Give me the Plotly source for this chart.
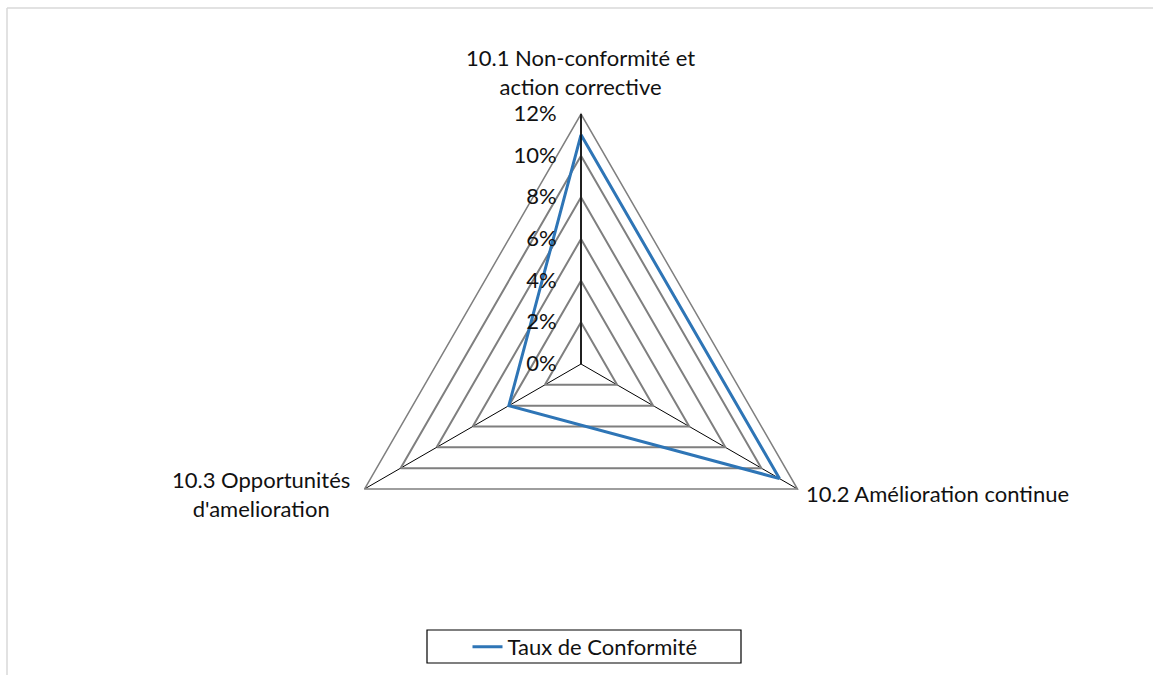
import plotly.graph_objects as go

# Compliance rate per clause of chapter 10
categories = [
    "10.1 Non-conformité et<br>action corrective",
    "10.2 Amélioration continue",
    "10.3 Opportunités<br>d'amelioration",
]
taux_conformite = [11, 11, 4]  # percent
radial_ticks = [0, 2, 4, 6, 8, 10, 12]
series_name = "Taux de Conformité"

W, H = 1153, 675
FONT = "Lato"
FS = 22
TXT = "#111111"

fig = go.Figure()
fig.add_trace(go.Scatterpolar(
    r=taux_conformite + taux_conformite[:1],
    theta=categories + categories[:1],
    mode="lines",
    name=series_name,
    line=dict(color="#2e75b6", width=3),
))

# polar area: radius 250 px, centred at (581, 364)
cx, cy, rad = 581, 364, 250
fig.update_layout(
    width=W, height=H,
    margin=dict(l=0, r=0, t=0, b=0),
    paper_bgcolor="white",
    font=dict(family=FONT, size=FS, color=TXT),
    showlegend=True,
    polar=dict(
        domain=dict(x=[(cx - rad) / W, (cx + rad) / W],
                    y=[1 - (cy + rad) / H, 1 - (cy - rad) / H]),
        bgcolor="white",
        gridshape="linear",
        radialaxis=dict(
            range=[0, 12],
            tickvals=radial_ticks,
            ticktext=[f"{v}%" for v in radial_ticks],
            angle=90,
            side="counterclockwise",
            tickangle=90,
            showline=True,
            linecolor="black",
            linewidth=1.5,
            gridcolor="#7f7f7f",
            gridwidth=1.5,
            ticks="outside",
            ticklen=16,
            tickcolor="rgba(0,0,0,0)",
            tickfont=dict(family=FONT, size=FS, color=TXT),
        ),
        angularaxis=dict(
            rotation=90,
            direction="clockwise",
            showline=True,
            linecolor="#7f7f7f",
            linewidth=1.5,
            gridcolor="black",
            gridwidth=1.3,
            ticks="",
            showticklabels=False,
        ),
    ),
    legend=dict(
        orientation="h",
        x=585 / W, xanchor="center",
        y=1 - 647 / H, yanchor="middle",
        bgcolor="rgba(0,0,0,0)",
        font=dict(family=FONT, size=22, color=TXT),
    ),
    shapes=[
        # legend frame
        dict(type="rect", xref="paper", yref="paper",
             x0=427 / W, x1=741 / W, y0=1 - 663 / H, y1=1 - 630 / H,
             line=dict(color="black", width=1.2)),
        # outer chart border (top and left edges)
        dict(type="line", xref="paper", yref="paper",
             x0=7 / W, x1=1, y0=1 - 8 / H, y1=1 - 8 / H,
             line=dict(color="#d9d9d9", width=1.5)),
        dict(type="line", xref="paper", yref="paper",
             x0=7 / W, x1=7 / W, y0=0, y1=1 - 8 / H,
             line=dict(color="#d9d9d9", width=1.5)),
    ],
)

# category labels placed around the triangle vertices, centred line by line
label_pos = [
    dict(x=580, y=72, xanchor="center"),
    dict(x=804, y=493, xanchor="left"),
    dict(x=352, y=494, xanchor="right"),
]
for text, pos in zip(categories, label_pos):
    fig.add_annotation(
        text=text, xref="paper", yref="paper",
        x=pos["x"] / W, y=1 - pos["y"] / H,
        xanchor=pos["xanchor"], yanchor="middle",
        align="center", showarrow=False,
        font=dict(family=FONT, size=FS, color=TXT),
    )

fig.write_html("out.html")
